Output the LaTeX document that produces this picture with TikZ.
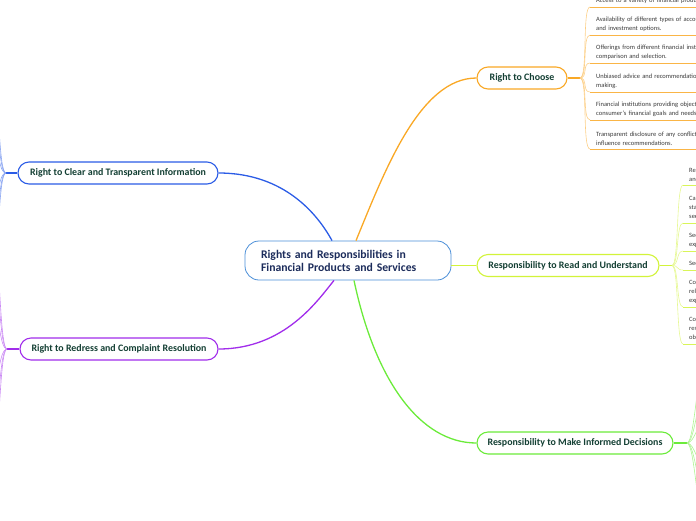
\documentclass[tikz,border=0pt]{standalone}
\usepackage{fontspec}
\setmainfont{Carlito}
\definecolor{orc}{HTML}{F9A825}
\definecolor{blc}{HTML}{2B5CE6}
\definecolor{puc}{HTML}{A12DEB}
\definecolor{yec}{HTML}{D2F33A}
\definecolor{grc}{HTML}{6BEB3A}
\definecolor{cec}{HTML}{4B8FD8}
\definecolor{headc}{HTML}{133F33}
\definecolor{cenc}{HTML}{1C2C5B}
\definecolor{leafc}{HTML}{3A3A3A}
\begin{document}
\begin{tikzpicture}[x=1pt,y=-1pt,
  hd/.style={draw=#1, line width=1.1pt, rounded corners=11pt, fill=white, minimum height=22pt, inner sep=0pt, text=headc, font=\fontsize{9.9}{11}\selectfont\bfseries},
  central/.style={draw=cec, line width=0.8pt, rounded corners=14pt, fill=white, minimum height=39pt, text width=174pt, inner xsep=16pt, inner ysep=3pt, align=left, text=cenc, font=\fontsize{11.7}{13}\selectfont\bfseries},
  leaf/.style={anchor=south west, inner xsep=6pt, inner ysep=3.2pt, align=left, text width=200pt, text=leafc, font=\fontsize{6.5}{9}\selectfont},
  main/.style={line width=1.3pt, draw=#1},
  sub/.style={line width=0.6pt, draw=#1!55},
  uline/.style={line width=0.8pt, draw=#1!85},
]
\useasboundingbox (0,0) rectangle (696,520);

% central and main nodes
\node[central] (c) at (348,260.5) {Rights and Responsibilities in\\Financial Products and Services};
\node[hd=orc, minimum width=90pt] (choose) at (522,78) {Right to Choose};
\node[hd=blc, minimum width=200pt] (clear) at (118,173) {Right to Clear and Transparent Information};
\node[hd=puc, minimum width=198pt] (redress) at (119,349) {Right to Redress and Complaint Resolution};
\node[hd=yec, minimum width=182pt] (read) at (568,265.5) {Responsibility to Read and Understand};
\node[hd=grc, minimum width=196pt] (decide) at (575,443) {Responsibility to Make Informed Decisions};

% main connectors
\draw[main=orc] ([xshift=8pt]c.north) .. controls (385,170) and (420,78) .. (choose.west);
\draw[main=blc] (clear.east) .. controls (285,173) and (318,215) .. ([xshift=-16pt]c.north);
\draw[main=puc] (redress.east) .. controls (285,349) and (318,300) .. ([xshift=-14pt]c.south);
\draw[main=yec] (c.east |- read.west) -- (read.west);
\draw[main=grc] ([xshift=6pt]c.south) .. controls (375,380) and (420,443) .. (decide.west);

% fan points
\coordinate (ofan) at (580,78);
\coordinate (yfan) at (672,265.5);
\coordinate (gfan) at (687,443);
\coordinate (bfan) at (6,173);
\coordinate (pfan) at (7,349);
\draw[main=orc] (choose.east) -- (ofan);
\draw[main=yec] (read.east) -- (yfan);
\draw[main=grc] (decide.east) -- (gfan);
\draw[main=blc] (clear.west) -- (bfan);
\draw[main=puc] (redress.west) -- (pfan);

% Right to Choose leaves
\node[leaf] (o1) at (590,7) {Access to a variety of financial products and services.};
\node[leaf] (o2) at (590,35) {Availability of different types of accounts, loans, credit cards,\\and investment options.};
\node[leaf] (o3) at (590,63) {Offerings from different financial institutions to allow for\\comparison and selection.};
\node[leaf] (o4) at (590,92) {Unbiased advice and recommendations for decision-\\making.};
\node[leaf] (o5) at (590,120) {Financial institutions providing objective advice based on the\\consumer's financial goals and needs.};
\node[leaf] (o6) at (590,149) {Transparent disclosure of any conflicts of interest that may\\influence recommendations.};
\foreach \n in {o1,o2,o3,o4,o5,o6}{
  \draw[sub=orc] (ofan) .. controls +(8,0) and +(-8,0) .. (\n.south west);
  \draw[uline=orc] (\n.south west) -- (\n.south east);
}

% Responsibility to Read and Understand leaves
\node[leaf] (y1) at (683,185) {Reading the terms\\and conditions};
\node[leaf] (y2) at (683,223) {Carefully reviewing\\statements and\\seeking help};
\node[leaf] (y3) at (683,251) {Seeking clarification\\explanations};
\node[leaf] (y4) at (683,270) {Seeking advice};
\node[leaf] (y5) at (683,307) {Comparing fees\\related costs and\\expenses};
\node[leaf] (y6) at (683,344) {Complying with\\responsibilities and\\obligations};
\foreach \n in {y1,y2,y3,y4,y5,y6}{
  \draw[sub=yec] (yfan) .. controls +(7,0) and +(-7,0) .. (\n.south west);
  \draw[uline=yec] (\n.south west) -- (\n.south east);
}

% off-page leaves
\foreach \i/\yy in {1/355,2/390,3/420,4/468,5/495,6/530}{
  \coordinate (g\i) at (706,\yy);
  \draw[sub=grc] (gfan) .. controls +(8,0) and +(-8,0) .. (g\i);
}
\foreach \i/\yy in {1/85,2/115,3/145,4/200,5/230,6/258}{
  \coordinate (b\i) at (-8,\yy);
  \draw[sub=blc] (bfan) .. controls +(-8,0) and +(8,0) .. (b\i);
}
\foreach \i/\yy in {1/230,2/268,3/308,4/382,5/422,6/460}{
  \coordinate (p\i) at (-8,\yy);
  \draw[sub=puc] (pfan) .. controls +(-8,0) and +(8,0) .. (p\i);
}
\end{tikzpicture}
\end{document}
